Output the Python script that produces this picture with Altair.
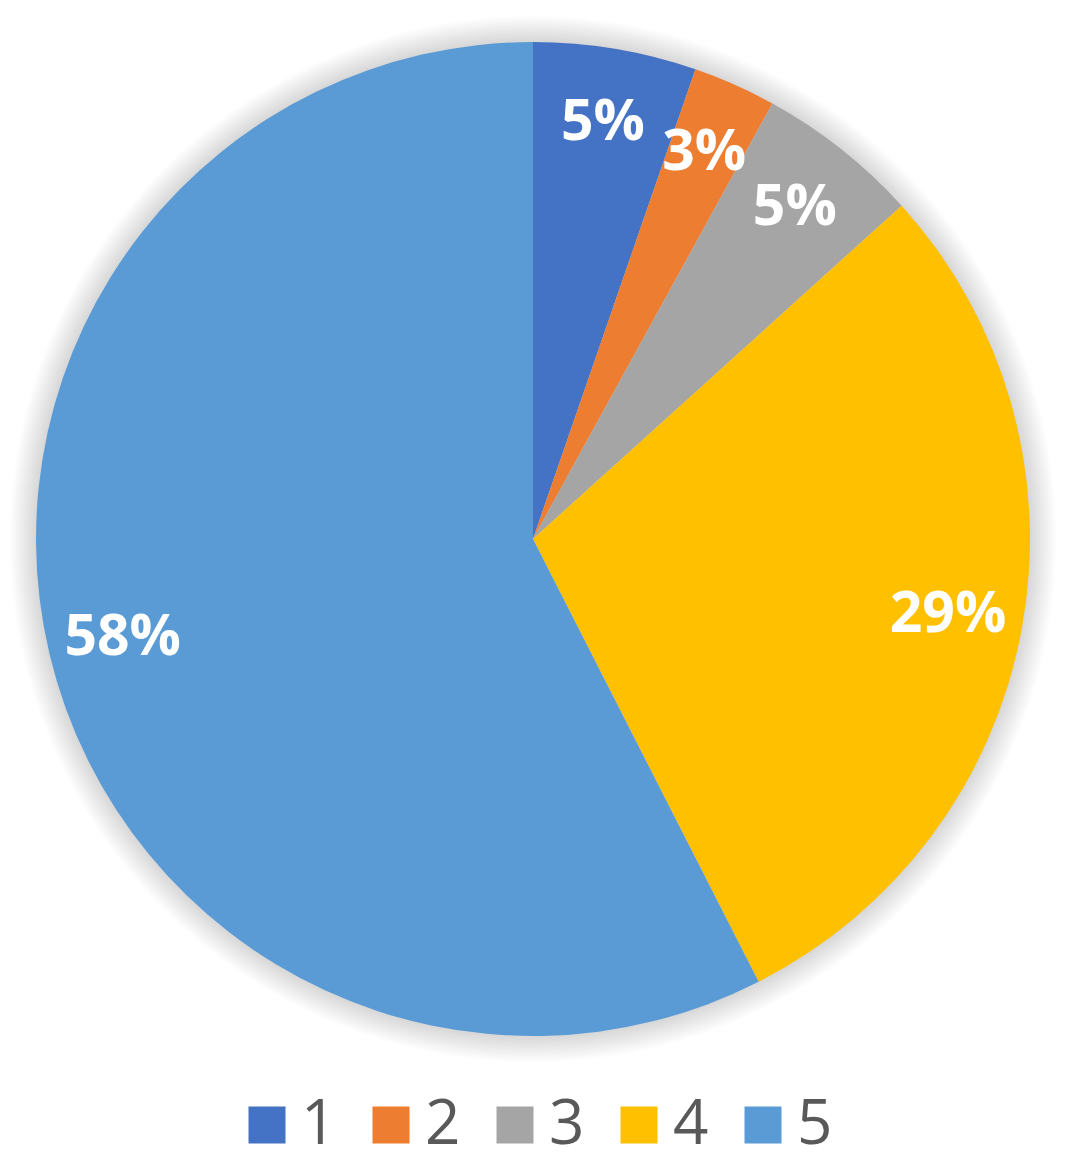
import altair as alt
import pandas as pd

categories = ["1", "2", "3", "4", "5"]
values = [5.3, 2.7, 5.3, 29.2, 57.5]
labels = ["5%", "3%", "5%", "29%", "58%"]
colors = ["#4472C4", "#ED7D31", "#A5A5A5", "#FFC000", "#5B9BD5"]

W, H = 1050, 1062
R = 497

df = pd.DataFrame({"cat": categories, "value": values, "label": labels,
                   "order": list(range(len(categories)))})

base = alt.Chart(df).encode(
    theta=alt.Theta("value:Q", stack=True),
    order=alt.Order("order:Q"),
)

# soft shadow around the pie (full discs drawn beneath the slices)
shadow_radii = list(range(499, 525, 2))
ring = pd.DataFrame({"v": [1]})
shadow_layers = [
    alt.Chart(ring)
    .mark_arc(outerRadius=r, color="#000000", opacity=0.013)
    .encode(theta=alt.Theta("v:Q", scale=alt.Scale(domain=[0, 1])))
    for r in shadow_radii
]

pie = base.mark_arc(outerRadius=R).encode(
    color=alt.Color(
        "cat:N",
        scale=alt.Scale(domain=categories, range=colors),
        legend=alt.Legend(
            title=None,
            orient="none",
            legendX=228,
            legendY=1080,
            direction="horizontal",
            symbolType="square",
            symbolSize=1369,
            symbolStrokeWidth=0,
            symbolOpacity=1,
            labelFont="Open Sans",
            labelFontSize=62,
            labelColor="#595959",
            labelOffset=3,
            columnPadding=23,
            padding=0,
            labelLimit=0,
            clipHeight=74,
        ),
    )
)

text = base.mark_text(
    radius=422, font="Open Sans", fontWeight="bold", fontSize=57,
    color="white", align="center", baseline="middle",
).encode(text="label:N")

chart = (
    alt.layer(*shadow_layers, pie, text)
    .resolve_scale(theta="independent")
    .properties(width=W, height=H, padding=0)
    .configure_view(stroke=None)
)

chart.save("out.html", embed_options={"renderer": "svg", "actions": False})
